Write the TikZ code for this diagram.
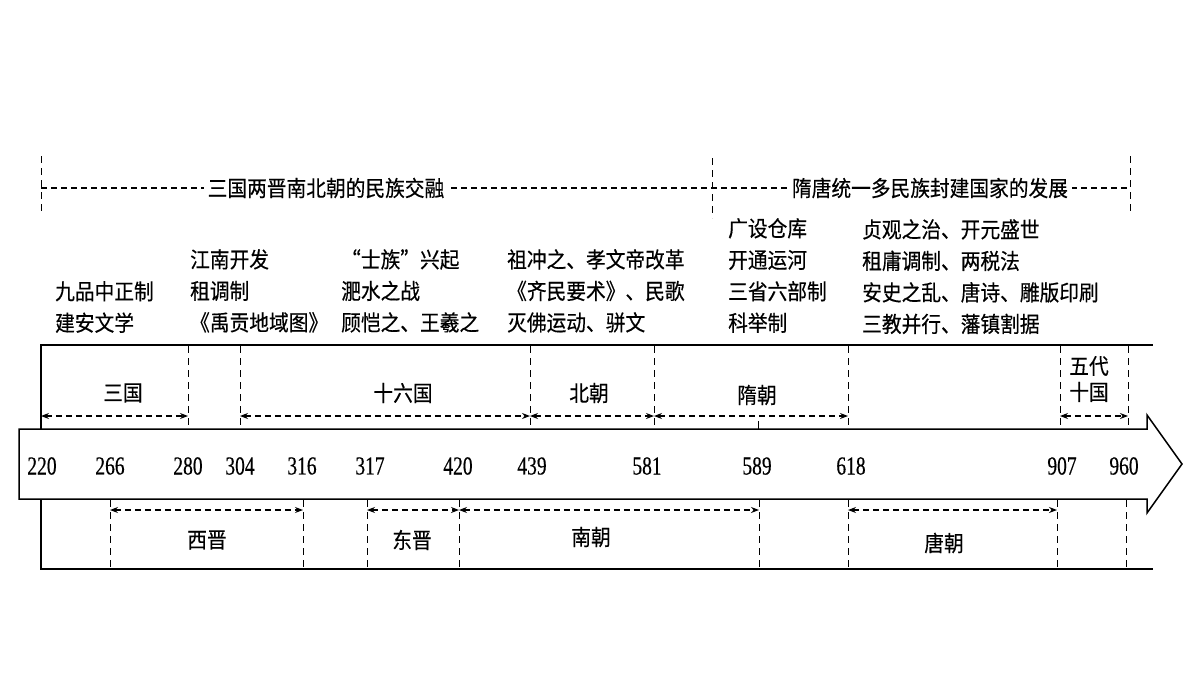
\documentclass[tikz,border=0pt]{standalone}
\usepackage{fontspec}
\newfontfamily\cjk[FakeStretch=0.9,FakeBold=0.4]{Noto Sans CJK SC}
\newfontfamily\numfont[FakeStretch=0.75,FakeBold=0.3]{Liberation Serif}
\usetikzlibrary{arrows.meta}
\begin{document}
\begin{tikzpicture}[x=1pt,y=-1pt,
  lbl/.style={font=\cjk\fontsize{21.9}{31.5}\selectfont, inner sep=0pt, text=black},
  blk/.style={lbl, align=left, anchor=north west},
  yr/.style={font=\numfont\fontsize{26}{28}\selectfont, inner sep=0pt},
  vdash/.style={line width=1pt, dash pattern=on 7pt off 5pt},
  spanarrow/.style={line width=1.1pt, dash pattern=on 6pt off 4pt,
     {Stealth[length=8pt,width=6pt]}-{Stealth[length=8pt,width=6pt]}},
  outline/.style={line width=1.5pt},
]
\useasboundingbox (0,0) rectangle (1200,675);

% top period bar
\coordinate (tl) at (41,188);
\coordinate (tm) at (712,188);
\coordinate (tr) at (1130,188);
\draw[vdash] (41,156) -- (41,212);
\draw[vdash] (712,158) -- (712,218);
\draw[vdash] (1130,156) -- (1130,213);
\draw[line width=1.1pt, dash pattern=on 6pt off 4pt] (tl) -- (tr);
\node[lbl, fill=white, inner xsep=4pt, inner ysep=2pt] (t1) at (326,188) {三国两晋南北朝的民族交融};
\node[lbl, fill=white, inner xsep=4pt, inner ysep=2pt] (t2) at (930,188) {隋唐统一多民族封建国家的发展};

% text blocks
\node[blk] (b1) at (55,281) {九品中正制\\建安文学};
\node[blk] (b2) at (190,249) {江南开发\\租调制\\《禹贡地域图》};
\node[blk] (b3) at (341,249) {“士族”兴起\\淝水之战\\顾恺之、王羲之};
\node[blk] (b4) at (507,249) {祖冲之、孝文帝改革\\《齐民要术》、民歌\\灭佛运动、骈文};
\node[blk] (b5) at (728,218) {广设仓库\\开通运河\\三省六部制\\科举制};
\node[blk] (b6) at (862,219) {贞观之治、开元盛世\\租庸调制、两税法\\安史之乱、唐诗、雕版印刷\\三教并行、藩镇割据};

% big arrow
\draw[outline] (19,429) -- (1147,429) -- (1147,415) -- (1182,464) -- (1147,513) -- (1147,499) -- (19,499) -- cycle;

% frame lines
\draw[outline] (41,429) -- (41,345) -- (1153,345);
\draw[outline] (41,499) -- (41,569) -- (1153,569);

% upper row
\foreach \n/\x in {a/41, b/188, c/240, d/530, e/654, f/848, g/1060, h/1128} {
  \coordinate (ut\n) at (\x,346);
  \coordinate (um\n) at (\x,416);
  \coordinate (ub\n) at (\x,429);
}
\foreach \n in {b,c,d,e,f,g,h} { \draw[vdash] (ut\n) -- (ub\n); }
\draw[line width=1pt] (758,421) -- (758,429);
\draw[spanarrow] (uma) -- (umb);
\draw[spanarrow] (umc) -- (umd);
\draw[spanarrow] (umd) -- (ume);
\draw[spanarrow] (ume) -- (umf);
\draw[spanarrow] (umg) -- (umh);
\node[lbl] (sanguo) at (123,393) {三国};
\node[lbl] (shiliuguo) at (403,393) {十六国};
\node[lbl] (beichao) at (589,393) {北朝};
\node[lbl] (suichao) at (757,395) {隋朝};
\node[lbl, align=center, font=\cjk\fontsize{21.9}{26}\selectfont] (wudai) at (1089,379) {五代\\十国};

% lower row
\foreach \n/\x in {a/110, b/303, c/367, d/459, e/759, f/848, g/1057, h/1126} {
  \coordinate (lt\n) at (\x,500);
  \coordinate (lm\n) at (\x,510);
  \coordinate (lb\n) at (\x,568);
}
\foreach \n in {a,b,c,d,e,f,g,h} { \draw[vdash] (lt\n) -- (lb\n); }
\draw[spanarrow] (lma) -- (lmb);
\draw[spanarrow] (lmc) -- (lmd);
\draw[spanarrow] (lmd) -- (lme);
\draw[spanarrow] (lmf) -- (lmg);
\node[lbl] (xijin) at (207,540) {西晋};
\node[lbl] (dongjin) at (412,540) {东晋};
\node[lbl] (nanchao) at (591,537) {南朝};
\node[lbl] (tangchao) at (944,543) {唐朝};

% years
\foreach \n/\x in {220/42, 266/110, 280/188, 304/240, 316/302, 317/370, 420/458, 439/532, 581/647, 589/757, 618/851, 907/1062, 960/1124} {
  \node[yr] (y\n) at (\x,466) {\n};
}
\end{tikzpicture}
\end{document}
